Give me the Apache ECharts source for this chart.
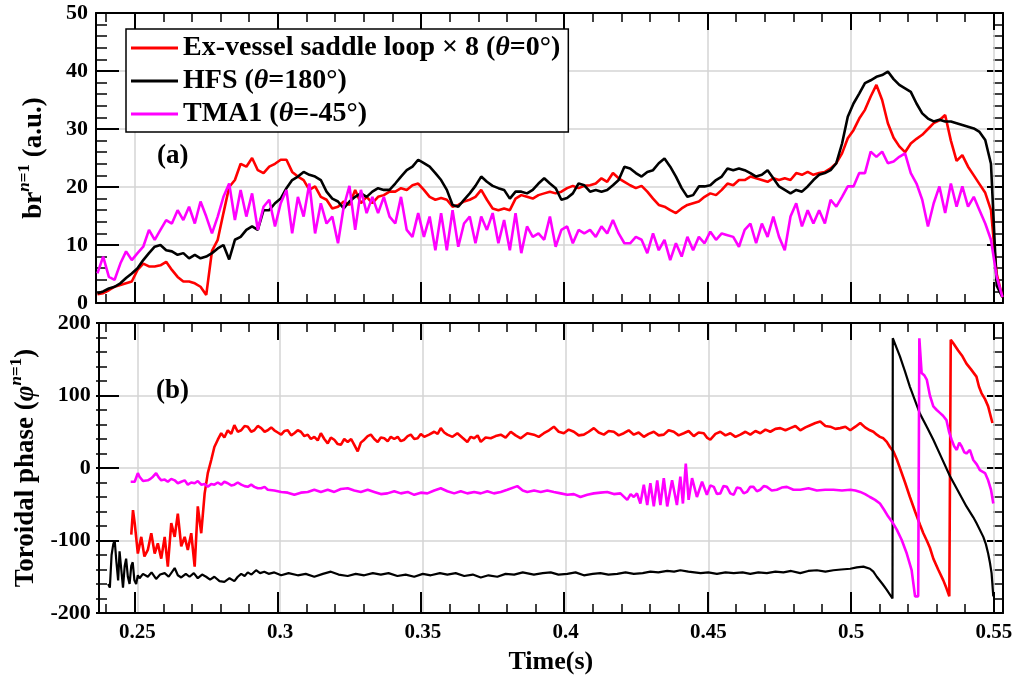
<!DOCTYPE html>
<html>
<head>
<meta charset="utf-8">
<script src="https://cdn.jsdelivr.net/npm/echarts@6/dist/echarts.min.js"></script>
<style>html,body{margin:0;padding:0;background:#fff}#chart{width:1016px;height:684px}</style>
</head>
<body>
<div id="chart"></div>
<script>
// 上图: 等间隔采样 t = 0.237 + i*0.002
const T0 = 0.237, DT = 0.002
const redTop = [
  1.5, 1.7, 2.2, 2.8, 3.1, 3.4, 3.7, 5.7, 6.8, 6.3,
  6.3, 6.5, 7.1, 5.7, 4.5, 3.7, 3.7, 3.4, 2.8, 1.4,
  9, 10.9, 15.5, 20, 21.2, 24, 23.5, 25, 22.9, 22.4,
  23.5, 24, 24.7, 24.7, 22.6, 21.8, 21.2, 19.5, 20.1, 18.3,
  17.8, 16.3, 16.6, 17.5, 16.9, 19.5, 17.2, 18.3, 17.2, 18.3,
  18.6, 19.2, 19.2, 19.8, 19.5, 20.3, 20.6, 19.5, 18.3, 17.8,
  18.1, 17.8, 16.6, 16.9, 17.5, 17.8, 18.3, 19.5, 17.8, 16.3,
  16, 16.3, 16, 18, 18.6, 18.3, 18, 18.6, 18.9, 19.2,
  18.9, 19.2, 19.8, 20.2, 19.8, 20.2, 20.3, 20.6, 21.5, 20.9,
  22.4, 21.5, 20.9, 20.3, 19.8, 20.2, 19.2, 18, 16.9, 16.6,
  16, 15.5, 16.3, 16.9, 17.2, 17.5, 18.3, 18.9, 18.6, 19.5,
  20.6, 20.3, 21.2, 21.2, 21.8, 21.5, 21.2, 20.9, 21.5, 21.2,
  21.5, 21.2, 22.4, 22.1, 22.6, 22.1, 22.4, 22.6, 23.2, 24.1,
  25.8, 28.4, 29.8, 31.8, 33.3, 35.6, 37.6, 35, 31, 28.5,
  27, 26, 27.5, 28.3, 29, 30, 31, 31.5, 32.4, 28,
  24.5, 25.5, 23.5, 22, 20.5, 19, 16, 5, 1
]
const blackTop = [
  1.7, 2, 2.5, 2.8, 3.4, 4.3, 5.1, 6, 7.4, 8.6,
  9.7, 10, 9.1, 8.9, 8.3, 8.6, 7.7, 8.3, 7.7, 8,
  8.6, 9.4, 10, 7.5, 10.9, 11.4, 12.6, 13.2, 12.6, 16,
  16, 17.2, 18, 19.8, 21.2, 21.8, 22.6, 22.1, 21.8, 21.2,
  19.2, 18, 17.5, 16.3, 17.5, 18.3, 18.9, 18.3, 19.2, 19.8,
  19.5, 19.5, 20.6, 21.8, 22.9, 23.5, 24.7, 24.1, 23.5, 22.4,
  21.2, 19.5, 16.9, 16.6, 17.8, 18.9, 20.2, 21.8, 20.9, 20.2,
  19.8, 19.5, 18, 19.2, 19.2, 18.9, 19.5, 20.6, 21.5, 20.6,
  19.8, 17.8, 18.1, 18.9, 20.6, 20.3, 19.2, 19.5, 19.2, 19.5,
  20.3, 21.2, 23.5, 23.2, 22.4, 21.8, 22.6, 22.9, 24.1, 24.9,
  23.5, 21.8, 19.8, 18.3, 18.6, 20.1, 20.1, 20.3, 21.2, 21.8,
  23.2, 22.9, 23.2, 22.9, 22.4, 21.8, 22.1, 22.9, 21.5, 20.1,
  19.5, 18.9, 19.5, 19.2, 20.1, 21.2, 22.1, 22.4, 22.9, 24.1,
  27.5, 32.1, 34.4, 36.1, 37.9, 38.4, 39, 39.3, 39.9, 38.6,
  37.6, 37, 36.4, 34.4, 32.7, 31.8, 31.3, 31.6, 31.3, 31.3,
  31, 30.7, 30.4, 30.1, 29.5, 28.1, 24, 3, 1
]
const magentaTop = [
  5.1, 8, 4.5, 4, 6.8, 8.9, 7.4, 8.6, 9.7, 12.6,
  10.9, 12.6, 14.3, 13.7, 16, 14.3, 16.6, 13.7, 17.5, 14.9,
  12, 14.9, 18.3, 20.6, 14.3, 19.5, 14.9, 18.9, 12.6, 16.6,
  17.8, 13.2, 17.2, 19.5, 12, 18.3, 14.9, 20.6, 12, 17.2,
  13.7, 14.9, 10.3, 16.6, 20.2, 12.6, 19.5, 15.5, 18.3, 15.5,
  18.3, 14.9, 13.7, 18.3, 12.6, 11.4, 15.5, 11.4, 14.9, 9.1,
  15.5, 9.1, 16, 9.7, 13.7, 14.9, 10.3, 14.9, 12.6, 15.5,
  10.3, 14.3, 9.1, 15.5, 8.6, 13.2, 11.4, 12, 10.9, 14.9,
  9.7, 12.6, 13.2, 10.3, 12.6, 12, 12.6, 11.4, 13.2, 12,
  14.3, 12, 10.3, 10.3, 11.4, 10.9, 8.6, 12, 9.1, 10.9,
  7.4, 10.3, 8, 11.4, 9.1, 11.4, 10.3, 12.3, 10.9, 12,
  11.7, 11.4, 9.7, 12.6, 13.7, 10.3, 13.7, 11.4, 14.9, 11.4,
  9.1, 14.9, 17.2, 13.2, 16, 13.7, 16, 13.7, 17.8, 16.6,
  18.3, 20.1, 20.1, 22.4, 22.4, 26.1, 25.2, 26.1, 24.1, 24.4,
  25.2, 25.8, 22.4, 20.6, 17.8, 13.2, 17.2, 20.1, 15.5, 20.6,
  16.6, 20.1, 16.6, 18.3, 16, 13.7, 10.9, 4.5, 1
]

// 下图: [时间, 相位]
const redBot = [
  [0.2479,-92],[0.2485,-58],[0.2491,-76],[0.2502,-118],[0.2514,-95],[0.2525,-122],[0.2537,-113],[0.2549,-90],[0.2561,-118],[0.2572,-104],
  [0.2584,-125],[0.2596,-95],[0.2607,-136],[0.2619,-76],[0.2631,-95],[0.2642,-63],[0.2654,-108],[0.2666,-95],[0.2677,-113],[0.2689,-90],
  [0.2701,-136],[0.2712,-53],[0.2724,-90],[0.2736,-35],[0.2747,-7],[0.2759,11],[0.2770,29],[0.2782,39],[0.2794,48],[0.2805,42],
  [0.2817,52],[0.2829,47],[0.2840,59],[0.2852,50],[0.2864,52],[0.2876,58],[0.2887,57],[0.2899,50],[0.2910,52],[0.2922,58],
  [0.2934,55],[0.2946,50],[0.2957,52],[0.2969,56],[0.2980,52],[0.2992,49],[0.3004,46],[0.3015,51],[0.3027,52],[0.3039,45],
  [0.3050,48],[0.3062,52],[0.3073,50],[0.3085,44],[0.3097,46],[0.3108,40],[0.3120,43],[0.3132,38],[0.3143,48],[0.3155,40],
  [0.3167,34],[0.3178,42],[0.3190,39],[0.3202,33],[0.3213,32],[0.3225,40],[0.3237,36],[0.3249,40],[0.3260,32],[0.3272,23],
  [0.3283,35],[0.3295,39],[0.3307,44],[0.3318,46],[0.3330,40],[0.3342,36],[0.3353,42],[0.3365,41],[0.3377,37],[0.3388,43],
  [0.3400,40],[0.3412,43],[0.3423,37],[0.3435,39],[0.3447,44],[0.3458,46],[0.3470,40],[0.3482,41],[0.3493,47],[0.3505,43],
  [0.3522,46],[0.3540,50],[0.3552,47],[0.3563,55],[0.3575,49],[0.3586,46],[0.3604,43],[0.3621,48],[0.3638,42],[0.3656,36],
  [0.3668,43],[0.3680,41],[0.3692,45],[0.3703,36],[0.3720,42],[0.3738,41],[0.3755,44],[0.3773,46],[0.3790,42],[0.3808,50],
  [0.3825,45],[0.3843,41],[0.3866,48],[0.3889,46],[0.3906,43],[0.3924,48],[0.3942,52],[0.3959,57],[0.3976,50],[0.3994,48],
  [0.4011,53],[0.4029,50],[0.4046,45],[0.4064,46],[0.4081,50],[0.4099,55],[0.4116,49],[0.4134,46],[0.4151,51],[0.4169,50],
  [0.4186,45],[0.4204,48],[0.4221,52],[0.4239,46],[0.4256,49],[0.4274,43],[0.4291,47],[0.4309,50],[0.4326,45],[0.4344,46],
  [0.4361,52],[0.4379,50],[0.4396,45],[0.4414,48],[0.4431,51],[0.4449,44],[0.4466,49],[0.4484,48],[0.4495,42],[0.4507,39],
  [0.4525,47],[0.4542,50],[0.4560,45],[0.4577,48],[0.4595,43],[0.4612,46],[0.4630,50],[0.4647,46],[0.4665,51],[0.4682,48],
  [0.4700,53],[0.4717,50],[0.4735,54],[0.4752,55],[0.4770,52],[0.4787,55],[0.4805,58],[0.4822,52],[0.4840,56],[0.4857,59],
  [0.4875,62],[0.4892,64],[0.4910,58],[0.4927,57],[0.4945,54],[0.4962,55],[0.4980,57],[0.4997,52],[0.5015,57],[0.5032,62],
  [0.5049,56],[0.5066,52],[0.5078,50],[0.5090,46],[0.5101,43],[0.5113,41],[0.5125,36],[0.5136,29],[0.5148,23],[0.5160,12],
  [0.5171,0],[0.5189,-20],[0.5206,-40],[0.5224,-60],[0.5241,-78],[0.5253,-90],[0.5265,-100],[0.5276,-110],[0.5288,-125],[0.5305,-140],
  [0.5323,-155],[0.5334,-166],[0.5344,-177],[0.5349,177],[0.5358,172],[0.5375,162],[0.5390,154],[0.5404,144],[0.5420,136],[0.5439,126],
  [0.5448,112],[0.5457,103],[0.5469,95],[0.5480,85],[0.5495,62]
]
const blackBot = [
  [0.2398,-160],[0.2404,-165],[0.2410,-120],[0.2416,-105],[0.2421,-100],[0.2427,-130],[0.2433,-155],[0.2438,-115],[0.2444,-140],[0.2450,-165],
  [0.2456,-135],[0.2461,-125],[0.2467,-150],[0.2473,-160],[0.2479,-135],[0.2484,-130],[0.2490,-155],[0.2496,-160],[0.2502,-148],[0.2508,-152],
  [0.2520,-146],[0.2537,-150],[0.2550,-144],[0.2566,-153],[0.2580,-147],[0.2596,-145],[0.2610,-150],[0.2631,-138],[0.2642,-148],[0.2654,-151],
  [0.2670,-146],[0.2683,-150],[0.2698,-145],[0.2712,-152],[0.2727,-147],[0.2741,-150],[0.2755,-154],[0.2770,-150],[0.2788,-156],[0.2805,-157],
  [0.2823,-152],[0.2840,-156],[0.2852,-150],[0.2864,-146],[0.2876,-149],[0.2887,-144],[0.2900,-147],[0.2916,-141],[0.2930,-145],[0.2945,-143],
  [0.2960,-146],[0.2980,-144],[0.3004,-148],[0.3030,-145],[0.3062,-148],[0.3090,-146],[0.3120,-150],[0.3150,-146],[0.3178,-143],[0.3205,-147],
  [0.3237,-149],[0.3265,-146],[0.3295,-148],[0.3325,-145],[0.3353,-147],[0.3380,-145],[0.3411,-149],[0.3440,-147],[0.3470,-150],[0.3500,-146],
  [0.3528,-148],[0.3560,-145],[0.3586,-147],[0.3615,-145],[0.3645,-149],[0.3675,-147],[0.3703,-151],[0.3730,-148],[0.3761,-150],[0.3790,-146],
  [0.3820,-147],[0.3850,-144],[0.3889,-147],[0.3920,-145],[0.3948,-144],[0.3975,-147],[0.4006,-146],[0.4035,-144],[0.4064,-148],[0.4095,-146],
  [0.4122,-145],[0.4150,-147],[0.4181,-146],[0.4210,-144],[0.4239,-146],[0.4270,-145],[0.4297,-143],[0.4325,-144],[0.4356,-142],[0.4380,-143],
  [0.4402,-141],[0.4430,-143],[0.4473,-145],[0.4500,-144],[0.4530,-146],[0.4560,-144],[0.4589,-145],[0.4620,-144],[0.4647,-146],[0.4675,-144],
  [0.4705,-145],[0.4735,-143],[0.4763,-144],[0.4790,-142],[0.4822,-145],[0.4850,-142],[0.4880,-141],[0.4910,-143],[0.4938,-141],[0.4965,-140],
  [0.4997,-139],[0.5020,-137],[0.5043,-136],[0.5066,-139],[0.5078,-143],[0.5090,-150],[0.5110,-160],[0.5125,-168],[0.5145,-180],[0.5146,179],
  [0.5160,165],[0.5171,154],[0.5189,133],[0.5206,112],[0.5224,93],[0.5241,75],[0.5265,57],[0.5288,39],[0.5317,14],[0.5346,-11],
  [0.5375,-32],[0.5404,-53],[0.5428,-68],[0.5439,-76],[0.5463,-95],[0.5472,-105],[0.5480,-118],[0.5486,-130],[0.5492,-145],[0.5498,-177]
]
const magentaBot = [
  [0.2477,-19],[0.2484,-18],[0.2491,-19],[0.2502,-7],[0.2508,-12],[0.2514,-14],[0.2520,-18],[0.2526,-17],[0.2537,-17],[0.2546,-15],
  [0.2555,-12],[0.2566,-7],[0.2575,-13],[0.2584,-17],[0.2596,-16],[0.2607,-19],[0.2619,-15],[0.2631,-17],[0.2642,-21],[0.2654,-19],
  [0.2666,-17],[0.2677,-23],[0.2689,-20],[0.2701,-21],[0.2712,-18],[0.2724,-23],[0.2736,-22],[0.2747,-26],[0.2759,-22],[0.2770,-23],
  [0.2782,-20],[0.2794,-23],[0.2805,-19],[0.2817,-21],[0.2829,-24],[0.2840,-23],[0.2852,-20],[0.2864,-23],[0.2876,-25],[0.2887,-26],
  [0.2899,-23],[0.2910,-26],[0.2922,-28],[0.2934,-28],[0.2946,-26],[0.2957,-30],[0.2980,-31],[0.3004,-33],[0.3027,-34],[0.3050,-37],
  [0.3073,-34],[0.3097,-33],[0.3120,-30],[0.3143,-33],[0.3167,-30],[0.3190,-33],[0.3213,-29],[0.3237,-28],[0.3260,-31],[0.3283,-33],
  [0.3307,-30],[0.3330,-33],[0.3353,-36],[0.3376,-35],[0.3400,-32],[0.3423,-35],[0.3447,-33],[0.3470,-37],[0.3493,-34],[0.3516,-35],
  [0.3540,-31],[0.3563,-28],[0.3586,-32],[0.3610,-35],[0.3633,-32],[0.3656,-35],[0.3680,-33],[0.3703,-35],[0.3726,-32],[0.3749,-35],
  [0.3773,-33],[0.3796,-30],[0.3831,-25],[0.3850,-31],[0.3866,-33],[0.3890,-31],[0.3913,-33],[0.3936,-31],[0.3959,-33],[0.3983,-35],
  [0.4006,-37],[0.4029,-36],[0.4052,-40],[0.4076,-37],[0.4099,-35],[0.4122,-34],[0.4146,-33],[0.4169,-36],[0.4192,-35],[0.4216,-44],
  [0.4228,-36],[0.4239,-40],[0.4250,-35],[0.4262,-49],[0.4274,-23],[0.4286,-51],[0.4297,-21],[0.4309,-53],[0.4321,-17],[0.4332,-51],
  [0.4344,-14],[0.4356,-53],[0.4373,-17],[0.4390,-51],[0.4402,-12],[0.4411,-49],[0.4421,6],[0.4431,-44],[0.4443,-14],[0.4460,-40],
  [0.4478,-19],[0.4495,-37],[0.4507,-24],[0.4519,-26],[0.4530,-36],[0.4542,-35],[0.4553,-25],[0.4565,-26],[0.4577,-35],[0.4589,-37],
  [0.4600,-27],[0.4612,-28],[0.4624,-35],[0.4635,-33],[0.4647,-26],[0.4658,-26],[0.4670,-32],[0.4682,-30],[0.4694,-25],[0.4705,-26],
  [0.4722,-31],[0.4740,-30],[0.4757,-27],[0.4775,-26],[0.4798,-30],[0.4822,-30],[0.4851,-28],[0.4880,-31],[0.4909,-30],[0.4938,-30],
  [0.4968,-31],[0.4997,-30],[0.5015,-31],[0.5032,-33],[0.5049,-36],[0.5066,-40],[0.5084,-44],[0.5101,-49],[0.5116,-58],[0.5130,-67],
  [0.5145,-75],[0.5160,-85],[0.5177,-99],[0.5195,-118],[0.5212,-141],[0.5224,-177],[0.5235,-177],[0.5239,179],[0.5247,131],[0.5256,128],
  [0.5265,122],[0.5276,100],[0.5288,85],[0.5300,80],[0.5311,76],[0.5322,72],[0.5334,66],[0.5343,50],[0.5352,39],[0.5361,30],
  [0.5370,25],[0.5379,35],[0.5387,30],[0.5396,22],[0.5404,20],[0.5416,25],[0.5428,11],[0.5440,5],[0.5451,-3],[0.5460,-5],
  [0.5469,-7],[0.5480,-17],[0.5490,-30],[0.5498,-49]
]

const names = ['Ex-vessel saddle loop × 8 (θ=0°)', 'HFS (θ=180°)', 'TMA1 (θ=-45°)']
const colors = ['#ff0000', '#000000', '#ff00ff']
const xMajor = [0.25, 0.3, 0.35, 0.4, 0.45, 0.5, 0.55]
const xMinor = [0.24, 0.26, 0.27, 0.28, 0.29, 0.31, 0.32, 0.33, 0.34, 0.36, 0.37, 0.38, 0.39,
  0.41, 0.42, 0.43, 0.44, 0.46, 0.47, 0.48, 0.49, 0.51, 0.52, 0.53, 0.54]
const X_MIN = 0.2365, X_MAX = 0.5532

const FONT = 'Liberation Serif'
const PLOT_LEFT = 96, PLOT_W = 907, PLOT_H = 290
const PANEL_TOP = [13, 323]
const black = { color: '#000', width: 2 }
const gridLine = { show: true, lineStyle: { color: '#d4d4d4', width: 1.5 } }

const grids = [], xAxes = [], yAxes = []

const nameRich = {
  t: { fontFamily: FONT, fontWeight: 'bold', fontSize: 27, lineHeight: 36, color: '#000' },
  ti: { fontFamily: FONT, fontWeight: 'bold', fontStyle: 'italic', fontSize: 27, lineHeight: 36, color: '#000' },
  si: { fontFamily: FONT, fontWeight: 'bold', fontStyle: 'italic', fontSize: 17, lineHeight: 17, verticalAlign: 'top', color: '#000' },
  s: { fontFamily: FONT, fontWeight: 'bold', fontSize: 17, lineHeight: 17, verticalAlign: 'top', color: '#000' }
}

// 主面板: 坐标框, 刻度标签, 网格线
function addPanel(p, yMin, yMax, yStep, yName, withXLabel) {
  const g = grids.length
  grids.push({ left: PLOT_LEFT, top: PANEL_TOP[p], width: PLOT_W, height: PLOT_H })
  const xBase = {
    type: 'value', gridIndex: g, min: X_MIN, max: X_MAX,
    axisLine: { show: true, onZero: false, lineStyle: black },
    axisTick: { show: true, inside: true, length: 1, customValues: xMajor, lineStyle: black },
    axisLabel: { show: false }, splitLine: { show: false }
  }
  const xMain = Object.assign({}, xBase, { position: 'bottom', splitLine: gridLine })
  if (withXLabel) {
    xMain.axisLabel = { show: true, customValues: xMajor, color: '#000', fontFamily: FONT, fontWeight: 'bold', fontSize: 21, margin: 9 }
    xMain.name = 'Time(s)'
    xMain.nameLocation = 'middle'
    xMain.nameGap = 36
    xMain.nameTextStyle = { color: '#000', fontFamily: FONT, fontWeight: 'bold', fontSize: 26 }
  }
  xAxes.push(xMain, Object.assign({}, xBase, { position: 'top' }))
  const yBase = {
    type: 'value', gridIndex: g, min: yMin, max: yMax, interval: yStep,
    axisLine: { show: true, onZero: false, lineStyle: black },
    axisTick: { show: false }, axisLabel: { show: false }, splitLine: { show: false }
  }
  yAxes.push(Object.assign({}, yBase, {
    position: 'left', splitLine: gridLine,
    axisLabel: { show: true, color: '#000', fontFamily: FONT, fontWeight: 'bold', fontSize: 22, margin: 8 },
    name: yName, nameLocation: 'middle', nameRotate: 90, nameGap: 44,
    nameTextStyle: { rich: nameRich }
  }), Object.assign({}, yBase, { position: 'right' }))
  return { x: xAxes.length - 2, y: yAxes.length - 2 }
}

// 刻度: 沿坐标框的窄条网格, 用其分隔线画出刻度
function addTickStrip(rect, isX, scale, width) {
  const g = grids.length
  grids.push(rect)
  const hidden = { type: 'value', gridIndex: g, show: false }
  const ax = Object.assign({
    type: 'value', gridIndex: g,
    axisLine: { show: false }, axisLabel: { show: false },
    splitLine: { show: true, lineStyle: { color: '#000', width: width } }
  }, scale)
  if (isX) { xAxes.push(ax); yAxes.push(hidden) } else { yAxes.push(ax); xAxes.push(hidden) }
}

function addTicks(p, yMin, yMax, yStep) {
  const top = PANEL_TOP[p], bottom = top + PLOT_H
  const xScale = vals => ({ min: X_MIN, max: X_MAX, axisTick: { show: true, length: 0, customValues: vals } })
  const yScale = step => ({ min: yMin, max: yMax, interval: step, axisTick: { show: false } })
  addTickStrip({ left: PLOT_LEFT, top: bottom - 21, width: PLOT_W, height: 21 }, true, xScale(xMajor), 2)
  addTickStrip({ left: PLOT_LEFT, top: bottom - 9, width: PLOT_W, height: 9 }, true, xScale(xMinor), 1.5)
  addTickStrip({ left: PLOT_LEFT, top: top, width: PLOT_W, height: 17 }, true, xScale(xMajor), 2)
  addTickStrip({ left: PLOT_LEFT, top: top, width: PLOT_W, height: 9 }, true, xScale(xMinor), 1.5)
  addTickStrip({ left: PLOT_LEFT, top: top, width: 23, height: PLOT_H }, false, yScale(yStep), 2)
  addTickStrip({ left: PLOT_LEFT, top: top, width: 11, height: PLOT_H }, false, yScale(yStep / 5), 1.5)
  addTickStrip({ left: PLOT_LEFT + PLOT_W - 16, top: top, width: 16, height: PLOT_H }, false, yScale(yStep), 2)
  addTickStrip({ left: PLOT_LEFT + PLOT_W - 10, top: top, width: 10, height: PLOT_H }, false, yScale(yStep / 5), 1.5)
}

const topAx = addPanel(0, 0, 50, 10, '{t|br}{si|n}{s|=1}{t| (a.u.)}', false)
const botAx = addPanel(1, -200, 200, 100, '{t|Toroidal phase (}{ti|φ}{si|n}{s|=1}{t|)}', true)
addTicks(0, 0, 50, 10)
addTicks(1, -200, 200, 100)

const tTop = redTop.map((v, i) => +(T0 + i * DT).toFixed(4))
const topSets = [redTop, blackTop, magentaTop]
const botSets = [redBot, blackBot, magentaBot]

const series = []
topSets.forEach((vals, k) => {
  series.push({
    name: names[k], type: 'line', xAxisIndex: topAx.x, yAxisIndex: topAx.y,
    data: vals.map((v, i) => [tTop[i], v]),
    showSymbol: false, symbol: 'none',
    lineStyle: { color: colors[k], width: 2.6 }, itemStyle: { color: colors[k] }
  })
})
botSets.forEach((vals, k) => {
  series.push({
    name: names[k], type: 'line', xAxisIndex: botAx.x, yAxisIndex: botAx.y,
    data: vals,
    showSymbol: false, symbol: 'none',
    lineStyle: { color: colors[k], width: k === 1 ? 2.2 : 2.6 }, itemStyle: { color: colors[k] }
  })
})

const chart = echarts.init(document.getElementById('chart'))
const option = {
  animation: false,
  grid: grids,
  xAxis: xAxes,
  yAxis: yAxes,
  legend: {
    data: names, orient: 'vertical', left: 126, top: 29,
    selectedMode: false, icon: 'rect', itemWidth: 47, itemHeight: 3, itemGap: 5,
    padding: [5, 8, 4, 5], backgroundColor: '#fff', borderColor: '#000', borderWidth: 1.5,
    formatter: name => '{t|' + name.replace('θ', '}{i|θ}{t|') + '}',
    textStyle: {
      rich: {
        t: { fontFamily: FONT, fontWeight: 'bold', fontSize: 28, color: '#000' },
        i: { fontFamily: FONT, fontWeight: 'bold', fontStyle: 'italic', fontSize: 28, color: '#000' }
      }
    }
  },
  graphic: [
    { type: 'text', z: 100, left: 157, top: 143, style: { text: '(a)', font: 'bold 27px "Liberation Serif"', fill: '#000' } },
    { type: 'text', z: 100, left: 156, top: 378, style: { text: '(b)', font: 'bold 27px "Liberation Serif"', fill: '#000' } }
  ],
  series: series
}
chart.setOption(option)
</script>
</body>
</html>
